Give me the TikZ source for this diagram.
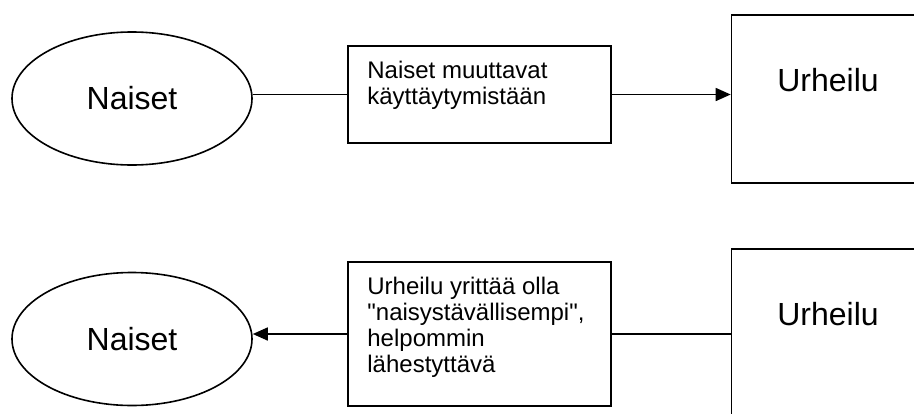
\documentclass[tikz,border=0pt]{standalone}
\usepackage{fontspec}
\setmainfont{Liberation Sans}[Ligatures=TeXOff]
\usetikzlibrary{arrows.meta,shapes.geometric}
\begin{document}
\begin{tikzpicture}[x=1pt,y=-1pt,
  shapeline/.style={draw=black, line width=1.6pt},
  ovalnode/.style={shapeline, ellipse, minimum width=240pt, minimum height=133pt, inner sep=0pt, font=\fontsize{32}{36}\selectfont},
  midbox/.style={shapeline, rectangle, minimum width=263pt, inner sep=0pt},
  bigbox/.style={shapeline, rectangle, minimum width=193pt, minimum height=168pt, inner sep=0pt},
  smalltext/.style={anchor=north west, align=left, inner sep=0pt, font=\fontsize{24}{26}\selectfont},
  bigtext/.style={anchor=base, inner sep=0pt, font=\fontsize{32}{36}\selectfont},
  conn/.style={line width=1.6pt},
  arrowconn/.style={conn, -{Triangle[length=15pt,width=13pt]}}]
\useasboundingbox (0,0) rectangle (914,413);
\clip (0,0) rectangle (914,413);
% top row
\node[ovalnode] (e1) at (132,98.5) {Naiset};
\node[midbox, minimum height=97pt] (m1) at (479.5,94.5) {};
\node[smalltext] (m1t) at ([xshift=20pt,yshift=-13pt]m1.north west) {\rule{0pt}{20pt}Naiset muuttavat\\käyttäytymistään};
\node[bigbox] (u1) at (828,99) {};
\node[bigtext] (u1t) at ([yshift=-77pt]u1.north) {Urheilu};
\draw[conn] (m1.west) -- (m1.west -| e1.east);
\draw[arrowconn] (m1.east) -- (m1.east -| u1.west);
% bottom row
\node[ovalnode] (e2) at (132,339) {Naiset};
\node[midbox, minimum height=144pt] (m2) at (479.5,334) {};
\node[smalltext] (m2t) at ([xshift=20pt,yshift=-13pt]m2.north west) {\rule{0pt}{20pt}Urheilu yrittää olla\\"naisystävällisempi",\\helpommin\\lähestyttävä};
\node[bigbox] (u2) at (828,333) {};
\node[bigtext] (u2t) at ([yshift=-77.5pt]u2.north) {Urheilu};
\draw[arrowconn] (m2.west) -- (m2.west -| e2.east);
\draw[conn] (m2.east) -- (m2.east -| u2.west);
\end{tikzpicture}
\end{document}
